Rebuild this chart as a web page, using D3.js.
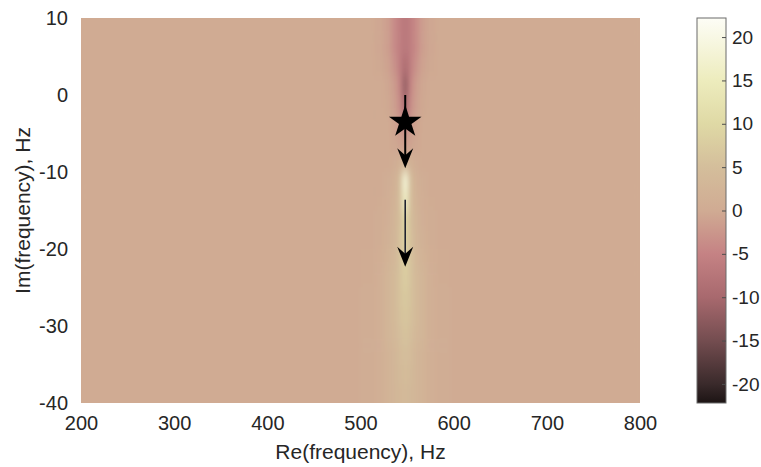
<!DOCTYPE html>
<html>
<head>
<meta charset="utf-8">
<script src="https://cdn.jsdelivr.net/npm/d3@7"></script>
<style>
  body { margin: 0; background: #fff; }
  text { font-family: "Liberation Sans", Arial, sans-serif; fill: #262626; }
</style>
</head>
<body>
<div id="chart"></div>
<script>
// grid of the field (Re columns, Im rows)
const reEdges = [200, 500, 515, 525, 533, 540, 545, 551, 556, 563, 571, 581, 596, 800];
const imEdges = [10, 7.5, 5, 2.5, 0, -2.5, -5, -7.5, -10, -12.5, -15, -17.5, -20, -22.5, -25, -27.5, -30, -32.5, -35, -37.5, -40];
const field = [
  [0, 0, -0.5, -1.5, -4, -6, -7, -6, -4, -1.5, -0.5, 0, 0],
  [0, 0, -0.5, -1.5, -4, -6, -7, -6, -4, -1.5, -0.5, 0, 0],
  [0, 0, -0.3, -1, -3, -6, -9, -6, -3, -1, -0.3, 0, 0],
  [0, 0, 0, -0.5, -2, -5, -12, -5, -2, -0.5, 0, 0, 0],
  [0, 0, 0, -0.3, -1.5, -4, -10, -4, -1.5, -0.3, 0, 0, 0],
  [0, 0, 0, 0, -1, -2.5, -5, -2.5, -1, 0, 0, 0, 0],
  [0, 0, 0, 0, -0.5, -1, -2, -1, -0.5, 0, 0, 0, 0],
  [0, 0, 0, 0, 0.5, 1.5, 3, 1.5, 0.5, 0, 0, 0, 0],
  [0, 0, 0, 0.5, 1.5, 5, 18, 5, 1.5, 0.5, 0, 0, 0],
  [0, 0, 0.3, 0.8, 2, 5, 16, 5, 2, 0.8, 0.3, 0, 0],
  [0, 0, 0.5, 1, 2.5, 5, 10, 5, 2.5, 1, 0.5, 0, 0],
  [0, 0, 0.5, 1.5, 3, 5.5, 9, 5.5, 3, 1.5, 0.5, 0, 0],
  [0, 0.3, 0.8, 2, 3.5, 6, 8.5, 6, 3.5, 2, 0.8, 0.3, 0],
  [0, 0.3, 1, 2.5, 4, 6, 8, 6, 4, 2.5, 1, 0.3, 0],
  [0, 0.5, 1, 2.5, 4, 6, 7, 6, 4, 2.5, 1, 0.5, 0],
  [0, 0.5, 1, 2.5, 4, 5.5, 6.5, 5.5, 4, 2.5, 1, 0.5, 0],
  [0, 0.5, 1, 2.5, 3.5, 5, 6, 5, 3.5, 2.5, 1, 0.5, 0],
  [0, 0.5, 1, 2, 3, 4.5, 5, 4.5, 3, 2, 1, 0.5, 0],
  [0, 0.5, 1, 2, 3, 4, 4.5, 4, 3, 2, 1, 0.5, 0],
  [0, 0.5, 1, 2, 3, 3.5, 4, 3.5, 3, 2, 1, 0.5, 0]
];

const xTicks = [200, 300, 400, 500, 600, 700, 800];
const yTicks = [10, 0, -10, -20, -30, -40];
const cbTicks = [20, 15, 10, 5, 0, -5, -10, -15, -20];
const cbRange = [-22.2, 22.2];

// colormap stops
const cmapStops = [-22.2, -20, -15, -10, -5, 0, 5, 10, 15, 22.2];
const cmapColors = ["#1c1414", "#3a2a2b", "#744d50", "#a8696e", "#c58284", "#d0ab93", "#d4be9b", "#dfd9a5", "#edecbd", "#fdfdf6"];

// star (pole) and arrows of its motion
const star = {re: 548, im: -3.5};
const arrows = [
  {re: 548, from: 0, to: -9.5, w: 2, color: "#000"},
  {re: 548, from: -13.6, to: -22.3, w: 1.6, color: "#1e2230"}
];

const W = 761, H = 467;
const plot = {left: 81, top: 18, right: 640, bottom: 403};
const cb = {left: 697, right: 726, top: 18, bottom: 403};

const hyphen = d => d < 0 ? "-" + Math.abs(d) : String(d); // MATLAB prints a plain hyphen

const x = d3.scaleLinear().domain([200, 800]).range([plot.left, plot.right]);
const y = d3.scaleLinear().domain([10, -40]).range([plot.top, plot.bottom]);
const color = d3.scaleLinear().domain(cmapStops).range(cmapColors).clamp(true);
const yc = d3.scaleLinear().domain(cbRange).range([cb.bottom, cb.top]);

const svg = d3.select("#chart").append("svg").attr("width", W).attr("height", H);
const defs = svg.append("defs");

defs.append("clipPath").attr("id", "plotClip")
  .append("rect")
  .attr("x", plot.left).attr("y", plot.top)
  .attr("width", plot.right - plot.left).attr("height", plot.bottom - plot.top);

const blur = defs.append("filter").attr("id", "smooth")
  .attr("filterUnits", "userSpaceOnUse")
  .attr("x", 0).attr("y", -100).attr("width", W).attr("height", H + 200);
blur.append("feGaussianBlur").attr("stdDeviation", "2.6 6");

// heatmap
const heat = svg.append("g").attr("clip-path", "url(#plotClip)");
heat.append("rect")
  .attr("x", plot.left).attr("y", plot.top)
  .attr("width", plot.right - plot.left).attr("height", plot.bottom - plot.top)
  .attr("fill", color(0));

const cells = [];
field.forEach((row, i) => row.forEach((v, j) => cells.push({i, j, v})));
const last = imEdges.length - 2;
heat.append("g").attr("filter", "url(#smooth)")
  .selectAll("rect").data(cells).enter().append("rect")
  .attr("x", d => x(reEdges[d.j]))
  .attr("width", d => x(reEdges[d.j + 1]) - x(reEdges[d.j]) + 0.5)
  .attr("y", d => y(imEdges[d.i]) - (d.i === 0 ? 40 : 0))
  .attr("height", d => y(imEdges[d.i + 1]) - y(imEdges[d.i]) + 0.5 + (d.i === 0 || d.i === last ? 40 : 0))
  .attr("fill", d => color(d.v));

// arrows
const ov = svg.append("g");
arrows.forEach(a => {
  const ax = x(a.re), y0 = y(a.from), y1 = y(a.to);
  const hl = 20, hw = 8, notch = 7;
  ov.append("line")
    .attr("x1", ax).attr("x2", ax)
    .attr("y1", y0).attr("y2", y1 - notch)
    .attr("stroke", a.color).attr("stroke-width", a.w);
  ov.append("path")
    .attr("d", `M${ax},${y1} L${ax - hw},${y1 - hl} L${ax},${y1 - hl + notch} L${ax + hw},${y1 - hl} Z`)
    .attr("fill", "#000");
});

// star marker
ov.append("path")
  .attr("d", d3.symbol(d3.symbolStar, 330)())
  .attr("transform", `translate(${x(star.re)},${y(star.im)})`)
  .attr("fill", "#000");

// axes (MATLAB style, no lines shown on the image axes)
const tickFont = "20px";
const xAxis = svg.append("g")
  .attr("transform", `translate(0,${plot.bottom})`)
  .call(d3.axisBottom(x).tickValues(xTicks).tickSize(0).tickPadding(13).tickFormat(hyphen));
const yAxis = svg.append("g")
  .attr("transform", `translate(${plot.left},0)`)
  .call(d3.axisLeft(y).tickValues(yTicks).tickSize(0).tickPadding(13).tickFormat(hyphen));
[xAxis, yAxis].forEach(g => {
  g.select(".domain").remove();
  g.selectAll("text").style("font-size", tickFont)
    .style("font-family", "'Liberation Sans', Arial, sans-serif").attr("fill", "#262626");
});

svg.append("text")
  .attr("x", (plot.left + plot.right) / 2).attr("y", 459)
  .attr("text-anchor", "middle").style("font-size", "21px")
  .text("Re(frequency), Hz");
svg.append("text")
  .attr("transform", `translate(30,${(plot.top + plot.bottom) / 2}) rotate(-90)`)
  .attr("text-anchor", "middle").style("font-size", "21px")
  .text("Im(frequency), Hz");

// colorbar
const grad = defs.append("linearGradient").attr("id", "cbGrad")
  .attr("x1", 0).attr("y1", 1).attr("x2", 0).attr("y2", 0);
cmapStops.forEach((s, i) => {
  grad.append("stop")
    .attr("offset", (s - cbRange[0]) / (cbRange[1] - cbRange[0]))
    .attr("stop-color", cmapColors[i]);
});
svg.append("rect")
  .attr("x", cb.left).attr("y", cb.top)
  .attr("width", cb.right - cb.left).attr("height", cb.bottom - cb.top)
  .attr("fill", "url(#cbGrad)")
  .attr("stroke", "#6b6b6b").attr("stroke-width", 1);

const cbAxis = svg.append("g")
  .attr("transform", `translate(${cb.right},0)`)
  .call(d3.axisRight(yc).tickValues(cbTicks).tickSize(-4).tickPadding(6).tickFormat(hyphen));
cbAxis.select(".domain").remove();
cbAxis.selectAll("line").attr("stroke", "#4d4d4d");
cbAxis.selectAll("text").style("font-size", "19px")
  .style("font-family", "'Liberation Sans', Arial, sans-serif").attr("fill", "#262626");
</script>
</body>
</html>
